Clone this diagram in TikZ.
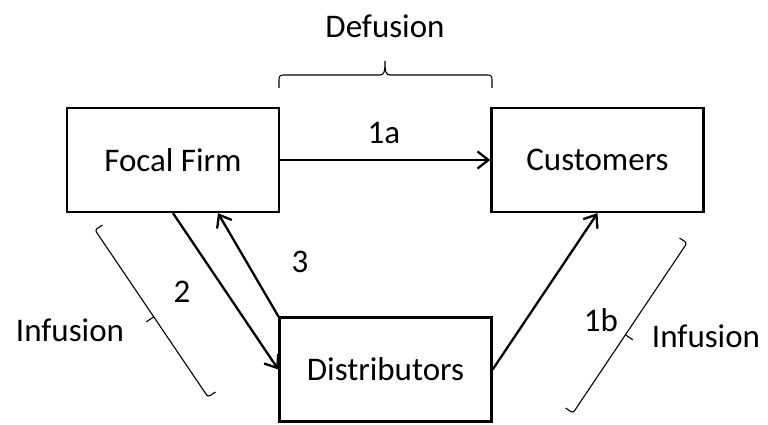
\documentclass[tikz,border=0pt]{standalone}
\usepackage{fontspec}
\setmainfont{Carlito}
\usetikzlibrary{arrows.meta,calc}
\begin{document}
\begin{tikzpicture}[x=1pt,y=-1pt,
  box/.style={draw,line width=2.3pt,minimum width=212pt,minimum height=104pt,inner sep=0pt},
  flow/.style={line width=2.3pt,-{Straight Barb[length=11pt,width=17pt,line width=2.3pt]}},
  brk/.style={line width=1.1pt,rounded corners=2.5pt},
  lbl/.style={inner sep=0pt},
  every node/.style={font=\fontsize{33}{39}\selectfont}]
\useasboundingbox (0,0) rectangle (768,425);

% the three parties
\node[box] (firm) at (173,160) {Focal Firm};
\node[box] (cust) at (597.5,160) {Customers};
\node[box] (dist) at (385.5,369.5) {Distributors};

% flows between them
\draw[flow] (firm.east) -- (cust.west);
\draw[flow] (firm.south) -- (dist.west);
\draw[flow] (dist.north west) -- ($(firm.south)!0.42!(firm.south east)$);
\draw[flow] (dist.east) -- (cust.south);

\node[lbl] (l1a) at (384,133) {1a};
\node[lbl] (l2) at (182,292) {2};
\node[lbl] (l3) at (300,262) {3};
\node[lbl] (l1b) at (601,320) {1b};

% top brace
\coordinate (dl) at (279,88);
\coordinate (dr) at (492,88);
\draw[line width=1.1pt] (dl) -- (279,80) .. controls (279,76) and (280,75) .. (284,75)
  -- (380,75) .. controls (384,75) and (385,72) .. (385,61)
  .. controls (385,72) and (386,75) .. (390,75)
  -- (487,75) .. controls (491,75) and (492,76) .. (492,80) -- (dr);
\node[lbl] (defu) at (385,26) {Defusion};

% left bracket
\coordinate (la) at (95,230);
\coordinate (lb) at (208,397);
\coordinate (lm) at ($(la)!0.52!(lb)$);
\draw[brk] ($(la)!9pt!90:(lb)$) -- (la) -- (lb) -- ($(lb)!9pt!-90:(la)$);
\draw[line width=1.1pt] (lm) -- ($(lm)!9pt!-90:(lb)$);
\node[lbl] (infl) at (70,330) {Infusion};

% right bracket
\coordinate (ra) at (687,243);
\coordinate (rb) at (573,413);
\coordinate (rm) at ($(ra)!0.54!(rb)$);
\draw[brk] ($(ra)!9pt!-90:(rb)$) -- (ra) -- (rb) -- ($(rb)!9pt!90:(ra)$);
\draw[line width=1.1pt] (rm) -- ($(rm)!9pt!90:(rb)$);
\node[lbl] (infr) at (706,336) {Infusion};
\end{tikzpicture}
\end{document}
